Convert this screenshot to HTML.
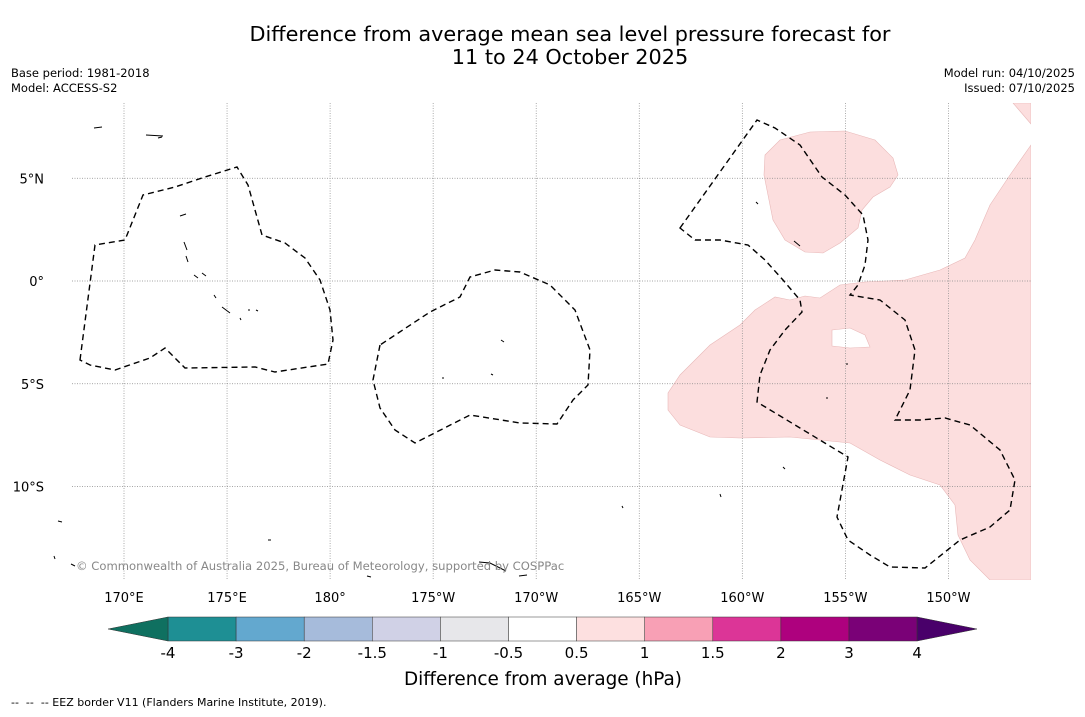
<!DOCTYPE html>
<html><head><meta charset="utf-8">
<style>
body{margin:0;background:#fff;width:1085px;height:713px;overflow:hidden;font-family:"DejaVu Sans","Liberation Sans",sans-serif;}
svg text{font-family:"DejaVu Sans","Liberation Sans",sans-serif;}
</style></head>
<body>
<svg width="1085" height="713" viewBox="0 0 1085 713">
<text x="570" y="41" text-anchor="middle" font-size="20.8">Difference from average mean sea level pressure forecast for</text>
<text x="570" y="64" text-anchor="middle" font-size="20.8">11 to 24 October 2025</text>
<text x="11" y="77" font-size="11.5">Base period: 1981-2018</text>
<text x="11" y="92" font-size="11.5">Model: ACCESS-S2</text>
<text x="1075" y="77" font-size="11.5" text-anchor="end">Model run: 04/10/2025</text>
<text x="1075" y="92" font-size="11.5" text-anchor="end">Issued: 07/10/2025</text>

<g>
<clipPath id="mc"><rect x="72" y="103" width="959" height="477"/></clipPath>
<g clip-path="url(#mc)">
<path fill="#fcdede" stroke="#e8b8b8" stroke-width="0.6" fill-rule="evenodd"
d="M1031,145 L1010,175 L990,205 L975,240 L965,258 L940,270 L905,280 L865,282 L840,285 L820,298 L805,296 L790,300 L775,297 L755,310 L740,325 L710,345 L680,375 L668,393 L668,410 L680,425 L710,437 L740,438 L790,437 L850,443 L880,460 L910,475 L940,485 L955,505 L958,535 L970,560 L990,580 L1031,580 Z
M832,330 L850,328 L865,335 L870,347 L850,348 L832,346 Z
M765,155 L780,140 L810,132 L845,131 L875,140 L893,158 L898,175 L890,187 L873,197 L862,210 L858,228 L840,243 L823,253 L805,252 L785,240 L773,220 L768,195 L764,175 Z
M1013,103 L1031,103 L1031,124 Z"/>
</g>
<g id="grid" stroke="#888" stroke-width="0.7" stroke-dasharray="1,1.5"></g>
<g fill="none" stroke="#000" stroke-width="1.4" stroke-dasharray="6,4">
<path d="M80,360 L95,245 L125,240 L143,195 L175,187 L205,177 L237,167 L248,185 L262,235 L285,243 L305,258 L320,280 L330,310 L333,340 L328,364 L275,372 L255,367 L185,368 L165,348 L150,358 L115,370 L90,365 Z"/>
<path d="M380,345 L373,380 L380,408 L395,430 L415,443 L470,415 L520,423 L557,424 L573,400 L588,385 L590,350 L575,310 L550,285 L520,272 L495,270 L470,277 L460,297 L430,312 Z"/>
<path d="M680,228 L700,200 L757,120 L775,128 L800,145 L822,177 L845,195 L863,215 L868,240 L865,265 L858,285 L850,295 L880,300 L905,320 L915,350 L910,390 L895,420 L920,420 L945,418 L970,425 L1000,450 L1015,480 L1010,510 L990,527 L960,540 L935,560 L925,568 L890,567 L870,555 L848,540 L837,517 L848,457 L757,402 L760,375 L770,350 L785,330 L802,312 L800,300 L783,280 L765,260 L748,245 L720,240 L695,240 Z"/>
</g>
<g fill="none" stroke="#000" stroke-width="1">
<path d="M146,135 L163,136 M158,138 L162,137 M94,128 L102,127 M184,242 L187,250 M186,256 L188,262 M194,275 L198,278 M202,273 L206,276 M214,295 L216,298 M222,307 L230,313 M180,216 L186,214 M501,340 L504,342 M491,374 L493,375 M756,202 L758,204 M794,241 L800,246 M783,467 L785,469 M720,494 L721,497 M479,562 L490,563 L500,568 L506,571 M54,556 L55,559 M58,521 L62,522 M71,564 L75,566 M268,540 L271,540 M367,576 L371,577 M519,576 L527,575 M442,378 L444,378 M622,506 L623,508 M846,364 L848,364 M826,398 L828,398 M240,318 L241,320 M248,310 L250,310 M256,310 L258,311"/>
</g>
<text x="76" y="570" font-size="11.6" fill="#888">© Commonwealth of Australia 2025, Bureau of Meteorology, supported by COSPPac</text>
<g id="axlabels" font-size="13"></g>
</g>

<g id="cbar"></g>
<text x="543" y="685" text-anchor="middle" font-size="18.4">Difference from average (hPa)</text>
<text x="11" y="706" font-size="11" xml:space="preserve">--  --  -- EEZ border V11 (Flanders Marine Institute, 2019).</text>
</svg>
<script>
const lonTicks=[170,175,180,185,190,195,200,205,210];
const lonLabels=["170°E","175°E","180°","175°W","170°W","165°W","160°W","155°W","150°W"];
const latTicks=[5,0,-5,-10];
const latLabels=["5°N","0°","5°S","10°S"];
const levels=["-4","-3","-2","-1.5","-1","-0.5","0.5","1","1.5","2","3","4"];
const colors=["#1e8f94","#63a8cf","#a6bbdb","#d0d1e6","#e7e7ea","#ffffff","#fde0e0","#f8a0b5","#dc3597","#ae017e","#7a0177"];
const underColor="#0f7060", overColor="#49006a";
(function(){
const ns="http://www.w3.org/2000/svg";
const x=lon=>124+(lon-170)*20.61;
const y=lat=>281-lat*20.55;
const grid=document.getElementById('grid'), ax=document.getElementById('axlabels');
lonTicks.forEach((l,i)=>{
 const ln=document.createElementNS(ns,'line');
 
 
 ln.setAttribute('x1',x(l));ln.setAttribute('x2',x(l));ln.setAttribute('y1',103);ln.setAttribute('y2',580);grid.appendChild(ln);
 const t=document.createElementNS(ns,'text');
 
 
 t.setAttribute('x',x(l));t.setAttribute('y',602);t.setAttribute('text-anchor','middle');t.textContent=lonLabels[i];ax.appendChild(t);
});
latTicks.forEach((l,i)=>{
 const ln=document.createElementNS(ns,'line');
 
 
 ln.setAttribute('x1',72);ln.setAttribute('x2',1031);ln.setAttribute('y1',y(l));ln.setAttribute('y2',y(l));grid.appendChild(ln);
 const t=document.createElementNS(ns,'text');
 
 
 t.setAttribute('x',44);t.setAttribute('y',y(l)+5);t.setAttribute('text-anchor','end');t.textContent=latLabels[i];ax.appendChild(t);
});
const cb=document.getElementById('cbar');
const x0=168,w=68.1,cbTop=617,h=24;
const cx=i=>x0+i*w;
colors.forEach((c,i)=>{
 const r=document.createElementNS(ns,'rect');
 
 
 r.setAttribute('x',cx(i));r.setAttribute('y',cbTop);r.setAttribute('width',w);r.setAttribute('height',h);
 r.setAttribute('fill',c);r.setAttribute('stroke','#333');r.setAttribute('stroke-width','0.5');cb.appendChild(r);
});
const n=colors.length;
const tl=document.createElementNS(ns,'polygon');


tl.setAttribute('points',`${cx(0)},${cbTop} 108,${cbTop+h/2} ${cx(0)},${cbTop+h}`);tl.setAttribute('fill',underColor);tl.setAttribute('stroke','#333');tl.setAttribute('stroke-width','0.5');cb.appendChild(tl);
const tr=document.createElementNS(ns,'polygon');


tr.setAttribute('points',`${cx(n)},${cbTop} 977,${cbTop+h/2} ${cx(n)},${cbTop+h}`);tr.setAttribute('fill',overColor);tr.setAttribute('stroke','#333');tr.setAttribute('stroke-width','0.5');cb.appendChild(tr);
levels.forEach((lv,i)=>{
 const t=document.createElementNS(ns,'text');
 
 
 t.setAttribute('x',cx(i));t.setAttribute('y',658);t.setAttribute('text-anchor','middle');t.setAttribute('font-size','15');t.textContent=lv;cb.appendChild(t);
});
})();
</script>
</body></html>
